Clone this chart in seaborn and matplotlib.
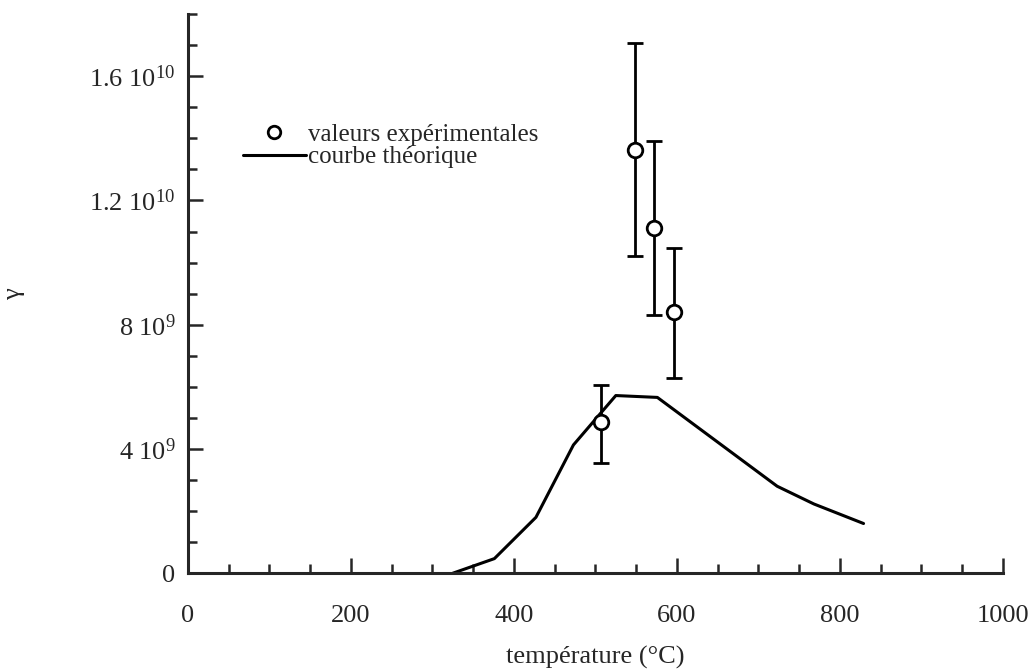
import numpy as np
import pandas as pd
import matplotlib
matplotlib.use("Agg")
import matplotlib.pyplot as plt
from matplotlib.lines import Line2D
import seaborn as sns

# Valeurs expérimentales (température en °C, gamma)
temp_exp = [507, 548, 572, 597]
gamma_exp = [4.87e9, 13.62e9, 11.1e9, 8.4e9]
err_bas = [1.32e9, 3.42e9, 2.78e9, 2.11e9]
err_haut = [1.19e9, 3.44e9, 2.8e9, 2.08e9]

# Courbe théorique
temp_th = [325, 376, 427, 473, 525, 576, 723, 768, 829]
gamma_th = [0.0, 0.47e9, 1.8e9, 4.13e9, 5.72e9, 5.66e9, 2.8e9, 2.23e9, 1.6e9]

# Graduations
yticks = [0, 4e9, 8e9, 1.2e10, 1.6e10]
ytick_labels = ["0", r"4 10$^{9}$", r"8 10$^{9}$", r"1.2 10$^{10}$", r"1.6 10$^{10}$"]
xticks = [0, 200, 400, 600, 800, 1000]

df_exp = pd.DataFrame({"T": temp_exp, "gamma": gamma_exp})
df_th = pd.DataFrame({"T": temp_th, "gamma": gamma_th})

sns.set_style("ticks")
plt.rcParams["font.family"] = ["Liberation Serif", "DejaVu Serif"]
plt.rcParams["mathtext.fontset"] = "custom"
plt.rcParams["mathtext.rm"] = "Liberation Serif"
plt.rcParams["mathtext.it"] = "Liberation Serif:italic"
plt.rcParams["font.size"] = 19

fig = plt.figure(figsize=(10.35, 6.72), dpi=100)
ax = fig.add_axes([0.1816, 0.147, 0.7874, 0.832])

# courbe théorique
sns.lineplot(data=df_th, x="T", y="gamma", color="black", linewidth=2.2, ax=ax, zorder=2)

# barres d'erreur
ax.errorbar(temp_exp, gamma_exp, yerr=[err_bas, err_haut], fmt="none", ecolor="black",
            elinewidth=2, capsize=6, capthick=2, zorder=3)
# points
sns.scatterplot(data=df_exp, x="T", y="gamma", marker="o", s=110, facecolor="white",
                edgecolor="black", linewidth=2, ax=ax, zorder=4)

ax.set_xlim(0, 1000)
ax.set_ylim(0, 1.8e10)
ax.set_xticks(xticks)
ax.set_xticks(np.arange(0, 1001, 50), minor=True)
ax.set_yticks(yticks)
ax.set_yticklabels(ytick_labels)
ax.set_yticks(np.arange(0, 1.8e10 + 1, 1e9), minor=True)

sns.despine(ax=ax)
for s in ["left", "bottom"]:
    ax.spines[s].set_linewidth(2.2)
ax.tick_params(which="major", direction="in", length=11, width=1.8, labelsize=19, pad=0)
ax.tick_params(which="minor", direction="in", length=6.5, width=1.8)
ax.tick_params(axis="x", which="major", pad=23)
ax.tick_params(axis="y", which="major", pad=9)

ax.set_xlabel("température (°C)", fontsize=19)
ax.set_ylabel("γ", fontsize=19)
ax.xaxis.set_label_coords(0.5, -0.13)
ax.yaxis.set_label_coords(-0.2, 0.5)

handles = [Line2D([], [], marker="o", linestyle="none", markersize=9, markerfacecolor="white",
                  markeredgecolor="black", markeredgewidth=2),
           Line2D([], [], color="black", linewidth=2.2)]
ax.legend(handles, ["valeurs expérimentales", "courbe théorique"], loc="upper left",
          bbox_to_anchor=(0.04, 0.845), frameon=False, handlelength=2.5, handletextpad=0.1,
          labelspacing=0.0, fontsize=18)

fig.savefig("out.png", dpi=100)
